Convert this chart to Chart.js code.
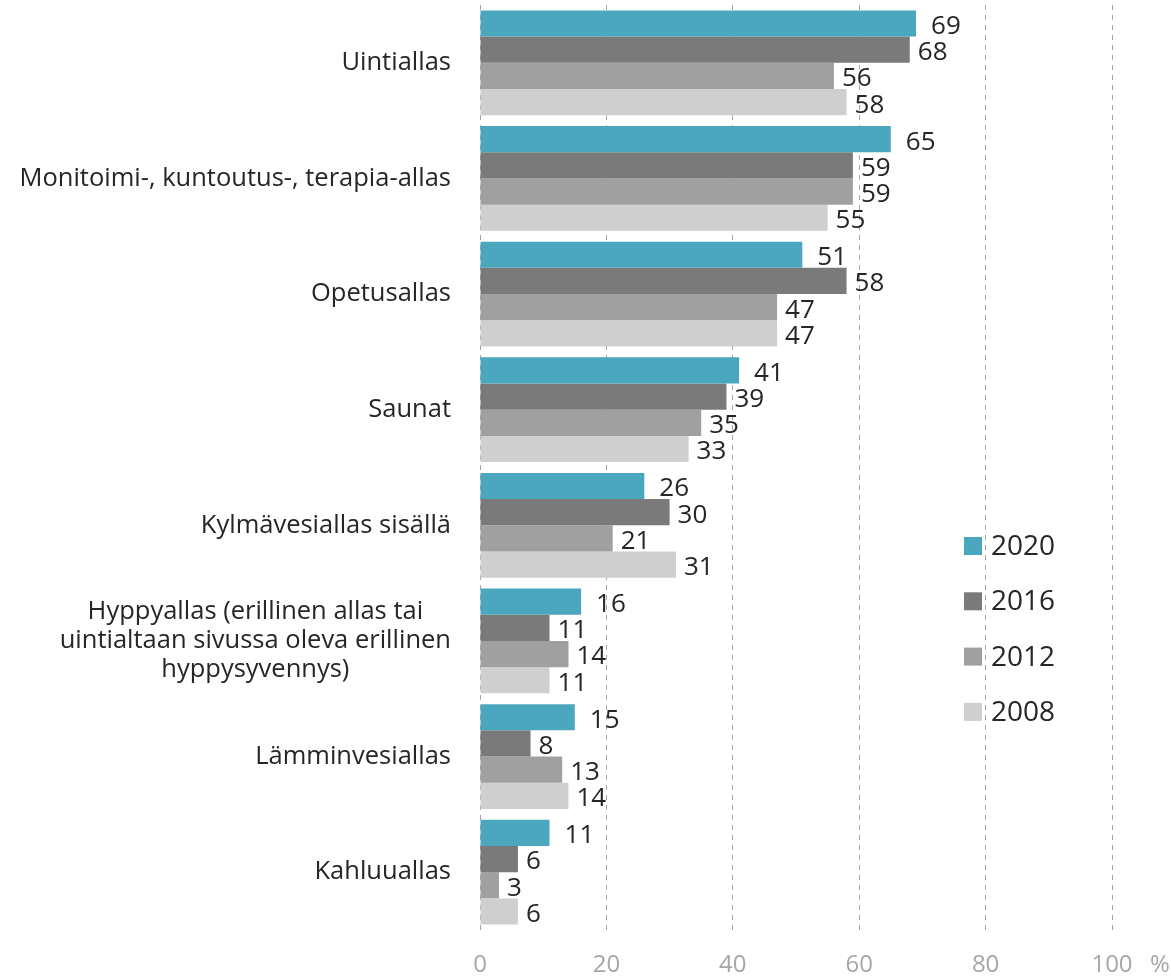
<!DOCTYPE html>
<html lang="fi">
<head>
  <meta charset="UTF-8" />
  <title>Allastilat</title>
  <script src="https://cdn.jsdelivr.net/npm/chart.js"></script>
  <style>
    body { margin: 0; background: #fff; }
    canvas { display: block; }
  </style>
</head>
<body>
  <canvas id="kaavio" width="1171" height="980"></canvas>

  <script>
    const kategoriat = [
      ['Uintiallas'],
      ['Monitoimi-, kuntoutus-, terapia-allas'],
      ['Opetusallas'],
      ['Saunat'],
      ['Kylmävesiallas sisällä'],
      ['Hyppyallas (erillinen allas tai', 'uintialtaan sivussa oleva erillinen', 'hyppysyvennys)'],
      ['Lämminvesiallas'],
      ['Kahluuallas']
    ];
    const vuodet = ['2020', '2016', '2012', '2008'];
    const arvot2020 = [69, 65, 51, 41, 26, 16, 15, 11];
    const arvot2016 = [68, 59, 58, 39, 30, 11, 8, 6];
    const arvot2012 = [56, 59, 47, 35, 21, 14, 13, 3];
    const arvot2008 = [58, 55, 47, 33, 31, 11, 14, 6];
    const xTicks = [0, 20, 40, 60, 80, 100];

    const varit = ['#4BA7BD', '#7A7A7A', '#A0A0A0', '#CFCFCF'];
    const fontti = '"Open Sans", sans-serif';

    // arvolabelit, kategoriat ja selite piirretään itse
    const piirto = {
      id: 'piirto',
      afterDatasetsDraw(chart) {
        const ctx = chart.ctx;
        const yScale = chart.scales.y;
        ctx.save();

        // arvot palkkien perään
        ctx.font = '26px ' + fontti;
        ctx.fillStyle = '#262626';
        ctx.textAlign = 'left';
        ctx.textBaseline = 'middle';
        chart.data.datasets.forEach((ds, i) => {
          const meta = chart.getDatasetMeta(i);
          const rako = i === 0 ? 15 : 8;
          meta.data.forEach((bar, j) => {
            ctx.fillText(ds.data[j], bar.x + rako, bar.y + 3);
          });
        });

        // kategoriat vasemmalle
        ctx.font = '25.5px ' + fontti;
        ctx.textAlign = 'center';
        kategoriat.forEach((rivit, i) => {
          const yc = yScale.getPixelForValue(i);
          const leveys = Math.max(...rivit.map(r => ctx.measureText(r).width));
          const xc = 451 - leveys / 2;
          const rivivali = 29;
          rivit.forEach((r, k) => {
            ctx.fillText(r, xc, yc + (k - (rivit.length - 1) / 2) * rivivali);
          });
        });

        // selite
        ctx.textAlign = 'left';
        ctx.font = '28px ' + fontti;
        chart.data.datasets.forEach((ds, i) => {
          const y = 546 + i * 55.3;
          ctx.fillStyle = ds.backgroundColor;
          ctx.fillRect(964, y - 9, 18, 18);
          ctx.fillStyle = '#262626';
          ctx.fillText(ds.label, 991, y + 1);
        });

        // prosenttimerkki akselin perään
        ctx.font = '24px ' + fontti;
        ctx.fillStyle = '#A6A6A6';
        ctx.textAlign = 'center';
        ctx.fillText('%', 1160, 965);
        ctx.restore();
      }
    };

    new Chart(document.getElementById('kaavio'), {
      type: 'bar',
      data: {
        labels: kategoriat,
        datasets: [
          { label: vuodet[0], data: arvot2020, backgroundColor: varit[0] },
          { label: vuodet[1], data: arvot2016, backgroundColor: varit[1] },
          { label: vuodet[2], data: arvot2012, backgroundColor: varit[2] },
          { label: vuodet[3], data: arvot2008, backgroundColor: varit[3] }
        ]
      },
      options: {
        indexAxis: 'y',
        responsive: false,
        animation: false,
        devicePixelRatio: 1,
        layout: { padding: { left: 480, right: 59, top: 5, bottom: 0 } },
        datasets: { bar: { barPercentage: 1, categoryPercentage: 0.907 } },
        plugins: { legend: { display: false }, tooltip: { enabled: false } },
        scales: {
          x: {
            min: 0,
            max: 100,
            afterBuildTicks: s => { s.ticks = xTicks.map(v => ({ value: v })); },
            afterFit: s => { s.height = 50; },
            ticks: { color: '#A6A6A6', font: { family: fontti, size: 24 }, padding: 21 },
            grid: { color: '#A6A6A6', drawTicks: false },
            border: { display: false, dash: [5, 5] }
          },
          y: { display: false }
        }
      },
      plugins: [piirto]
    });
  </script>
</body>
</html>
